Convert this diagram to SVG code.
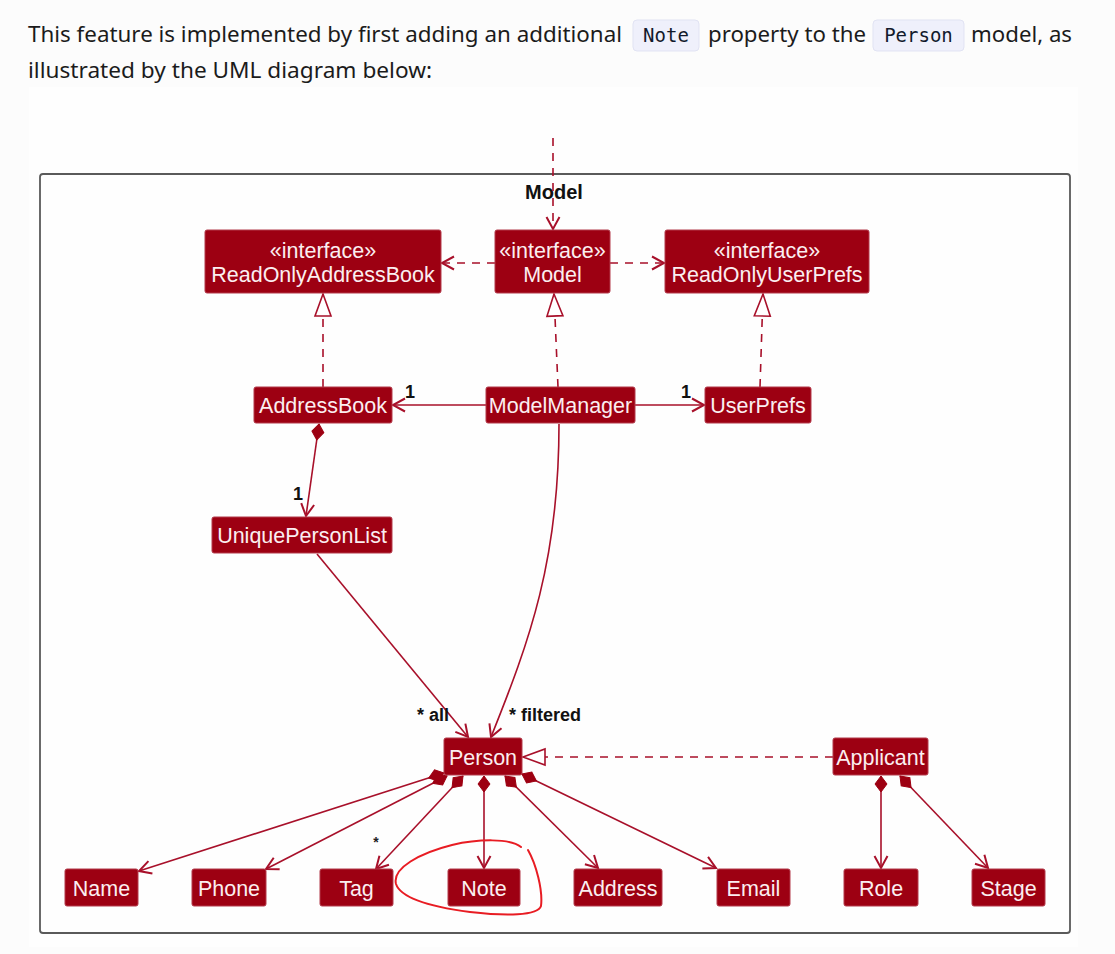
<svg xmlns="http://www.w3.org/2000/svg" width="1115" height="954" viewBox="0 0 1115 954">
<style>
.para{font-family:"Noto Sans","Open Sans",sans-serif;font-size:22px;fill:#1b1b1b}
.code{font-family:"DejaVu Sans Mono","Liberation Mono",monospace;font-size:19px;fill:#121a2c}
.pill{fill:#eff0fb;stroke:#e1e3f3;stroke-width:1}
.node rect{fill:#9d0012;stroke:#b33a4a;stroke-width:1}
.node text{font-family:"Liberation Sans",Arial,sans-serif;font-size:21.5px;fill:#fbeef0;text-anchor:middle}
.edge{fill:none;stroke:#a8102a;stroke-width:1.6}
.dash{stroke-dasharray:8 7}
.lbl{font-family:"Liberation Sans",Arial,sans-serif;font-weight:bold;font-size:18px;fill:#111}
</style>
<defs>
<marker id="arr" markerUnits="userSpaceOnUse" orient="auto" refX="0" refY="0" markerWidth="30" markerHeight="30" overflow="visible">
<path d="M-12,-6.5 L0,0 L-12,6.5" fill="none" stroke="#a8102a" stroke-width="2"/>
</marker>
<marker id="tri" markerUnits="userSpaceOnUse" orient="auto" refX="0" refY="0" markerWidth="30" markerHeight="30" overflow="visible">
<path d="M0,0 L-22,-8 L-22,8 Z" fill="#ffffff" stroke="#a8102a" stroke-width="1.6"/>
</marker>
<marker id="dia" markerUnits="userSpaceOnUse" orient="auto" refX="0" refY="0" markerWidth="30" markerHeight="30" overflow="visible">
<path d="M0,0 L8,-6 L16,0 L8,6 Z" fill="#9d0012" stroke="#9d0012" stroke-width="1"/>
</marker>
</defs>
<rect x="0" y="0" width="1115" height="954" fill="#fcfcfc"/>
<rect x="29" y="87" width="1049" height="860" fill="#fefefe"/>
<g id="intro">
<text class="para" x="28" y="42" textLength="594" lengthAdjust="spacingAndGlyphs">This feature is implemented by first adding an additional</text>
<rect class="pill" x="633" y="20" width="66" height="31" rx="4"/>
<text class="code" x="666" y="42" text-anchor="middle">Note</text>
<text class="para" x="708" y="42" textLength="158" lengthAdjust="spacingAndGlyphs">property to the</text>
<rect class="pill" x="873" y="20" width="91" height="31" rx="4"/>
<text class="code" x="918.5" y="42" text-anchor="middle">Person</text>
<text class="para" x="971" y="42" textLength="101" lengthAdjust="spacingAndGlyphs">model, as</text>
<text class="para" x="28" y="78" textLength="404" lengthAdjust="spacingAndGlyphs">illustrated by the UML diagram below:</text>
</g>
<g id="package-model">
<rect x="40" y="174" width="1030" height="759" rx="3" fill="none" stroke="#5a5a5a" stroke-width="1.8"/>
<text x="554" y="199" text-anchor="middle" font-family="Liberation Sans,Arial,sans-serif" font-weight="bold" font-size="20" fill="#111">Model</text>
</g>
<g id="connectors">
<path class="edge dash" d="M553,138 L553,229" marker-end="url(#arr)"/>
<path class="edge dash" d="M495,263 L442,263" marker-end="url(#arr)"/>
<path class="edge dash" d="M610,263 L664,263" marker-end="url(#arr)"/>
<path class="edge dash" d="M323,387 L323,294" marker-end="url(#tri)"/>
<path class="edge dash" d="M558,387 L554,294" marker-end="url(#tri)"/>
<path class="edge dash" d="M760,387 L763,294" marker-end="url(#tri)"/>
<path class="edge" d="M486,405 L393,405" marker-end="url(#arr)"/>
<path class="edge" d="M635,405 L704,405" marker-end="url(#arr)"/>
<path class="edge" d="M319,424 L306,516" marker-start="url(#dia)" marker-end="url(#arr)"/>
<path class="edge" d="M317,554 L468,737" marker-end="url(#arr)"/>
<path class="edge" d="M559,424 C559,560 530,640 491,737" marker-end="url(#arr)"/>
<path class="edge dash" d="M833,757 L523,757" marker-end="url(#tri)"/>
<path class="edge" d="M444,773 L139,871" marker-start="url(#dia)" marker-end="url(#arr)"/>
<path class="edge" d="M447,776 L266,869" marker-start="url(#dia)" marker-end="url(#arr)"/>
<path class="edge" d="M463,776 L376,869" marker-start="url(#dia)" marker-end="url(#arr)"/>
<path class="edge" d="M484,776 L484,868" marker-start="url(#dia)" marker-end="url(#arr)"/>
<path class="edge" d="M505,776 L598,868" marker-start="url(#dia)" marker-end="url(#arr)"/>
<path class="edge" d="M522,774 L716,868" marker-start="url(#dia)" marker-end="url(#arr)"/>
<path class="edge" d="M881,776 L881,868" marker-start="url(#dia)" marker-end="url(#arr)"/>
<path class="edge" d="M900,776 L988,868" marker-start="url(#dia)" marker-end="url(#arr)"/>
<text class="lbl" x="410" y="398" text-anchor="middle">1</text>
<text class="lbl" x="686" y="398" text-anchor="middle">1</text>
<text class="lbl" x="298" y="500" text-anchor="middle">1</text>
<text class="lbl" x="417" y="721">* all</text>
<text class="lbl" x="509" y="721">* filtered</text>
<text x="376" y="847" text-anchor="middle" font-family="Liberation Sans,Arial,sans-serif" font-weight="bold" font-size="14" fill="#222">*</text>
</g>
<g id="ReadOnlyAddressBook" class="node"><rect x="205" y="230" width="236" height="63" rx="2"/><text x="323" y="258">«interface»</text><text x="323" y="282">ReadOnlyAddressBook</text></g>
<g id="ModelInterface" class="node"><rect x="495" y="230" width="115" height="63" rx="2"/><text x="552.5" y="258">«interface»</text><text x="552.5" y="282">Model</text></g>
<g id="ReadOnlyUserPrefs" class="node"><rect x="665" y="230" width="204" height="63" rx="2"/><text x="767" y="258">«interface»</text><text x="767" y="282">ReadOnlyUserPrefs</text></g>
<g id="AddressBook" class="node"><rect x="254" y="387" width="138" height="36" rx="2"/><text x="323" y="413">AddressBook</text></g>
<g id="ModelManager" class="node"><rect x="486" y="387" width="149" height="36" rx="2"/><text x="560.5" y="413">ModelManager</text></g>
<g id="UserPrefs" class="node"><rect x="705" y="387" width="106" height="36" rx="2"/><text x="758" y="413">UserPrefs</text></g>
<g id="UniquePersonList" class="node"><rect x="212" y="517" width="180" height="36" rx="2"/><text x="302" y="543">UniquePersonList</text></g>
<g id="Person" class="node"><rect x="444" y="738" width="78" height="37" rx="2"/><text x="483" y="765">Person</text></g>
<g id="Applicant" class="node"><rect x="833" y="738" width="95" height="37" rx="2"/><text x="880.5" y="765">Applicant</text></g>
<g id="Name" class="node"><rect x="65" y="869" width="73" height="37" rx="2"/><text x="101.5" y="896">Name</text></g>
<g id="Phone" class="node"><rect x="192" y="869" width="74" height="37" rx="2"/><text x="229" y="896">Phone</text></g>
<g id="Tag" class="node"><rect x="320" y="869" width="73" height="37" rx="2"/><text x="356.5" y="896">Tag</text></g>
<g id="Note" class="node"><rect x="448" y="869" width="72" height="37" rx="2"/><text x="484" y="896">Note</text></g>
<g id="Address" class="node"><rect x="574" y="869" width="88" height="37" rx="2"/><text x="618" y="896">Address</text></g>
<g id="Email" class="node"><rect x="717" y="869" width="73" height="37" rx="2"/><text x="753.5" y="896">Email</text></g>
<g id="Role" class="node"><rect x="844" y="869" width="74" height="37" rx="2"/><text x="881" y="896">Role</text></g>
<g id="Stage" class="node"><rect x="972" y="869" width="73" height="37" rx="2"/><text x="1008.5" y="896">Stage</text></g>
<g id="annotation">
<path d="M528,850 C536,864 543,890 541,906 C538,916 505,916 470,912 C432,907 401,899 396,884 C392,868 420,853 452,845 C478,839 510,838 521,847" fill="none" stroke="#e81c23" stroke-width="2" stroke-linecap="round"/>
</g>
</svg>
